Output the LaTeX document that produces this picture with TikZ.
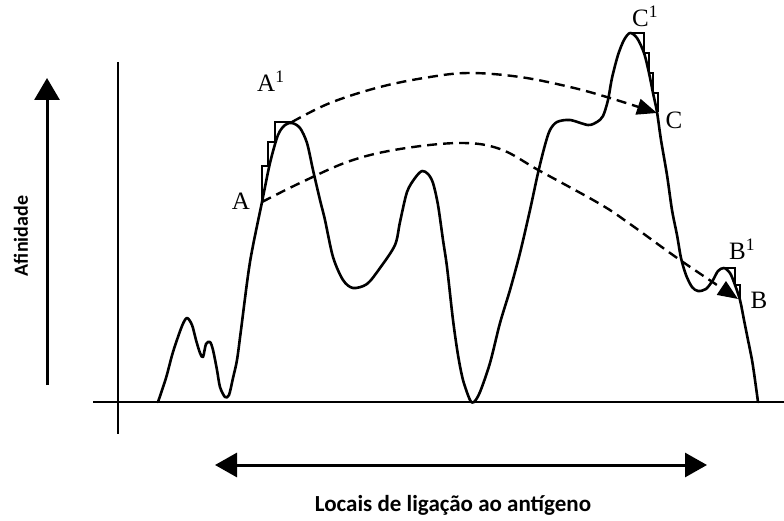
\documentclass[tikz,border=0pt]{standalone}
\usepackage{fontspec}
\setmainfont{Liberation Serif}
\newfontfamily\calibfont{Carlito}
\usetikzlibrary{arrows.meta}
\begin{document}
\begin{tikzpicture}[x=1pt,y=-1pt,
  curve/.style={line width=2.6pt, line join=round, line cap=round},
  axisline/.style={line width=2.2pt},
  stair/.style={line width=2pt, line join=miter},
  dashline/.style={line width=2.4pt, dash pattern=on 10pt off 6pt, -{Triangle[length=20pt,width=16pt]}},
  lbl/.style={font=\fontsize{25}{25}\selectfont, inner sep=0pt},
  bigarrow/.style={line width=3pt},
  captxt/.style={font=\calibfont\bfseries\fontsize{23}{23}\selectfont, inner sep=0pt},
  sidetxt/.style={font=\calibfont\bfseries\fontsize{20}{20}\selectfont, inner sep=0pt}
]
\useasboundingbox (0,0) rectangle (784,521);

% axes
\coordinate (yaxTop) at (118,62);
\coordinate (yaxBot) at (118,434);
\coordinate (xaxL) at (93,402);
\coordinate (xaxR) at (784,402);
\draw[axisline] (yaxTop) -- (yaxBot);
\draw[axisline] (xaxL) -- (xaxR);

% affinity arrow
\coordinate (affBot) at (47,385);
\coordinate (affTop) at (47,78);
\draw[bigarrow, -{Triangle[length=22pt,width=25pt]}] (affBot) -- (affTop);
\node[sidetxt, rotate=90] (afin) at (21,236) {Afinidade};

% sites arrow
\coordinate (siteL) at (215,465);
\coordinate (siteR) at (707,465);
\draw[bigarrow, {Triangle[length=22pt,width=24pt]}-{Triangle[length=22pt,width=24pt]}] (siteL) -- (siteR);
\node[captxt] (locais) at (453,505) {Locais de ligação ao antígeno};

% profile curve
\draw[curve] plot[smooth, tension=0.5] coordinates {
(158,402) (166,378) (173,352) (182,326) (187,318) (192,325) (196,340) (200,353) (203,357)
(206,344) (210,342) (213,350) (217,370) (220,387) (225,397) (229,395) (233,378) (237,360)
(241,330) (250,262) (262,202) (270,163) (278,135) (285,125) (292,123) (300,128) (307,143)
(313,170) (320,200) (325,220) (333,257) (343,280) (353,288) (367,284) (380,268) (395,245)
(400,222) (407,192) (415,178) (422,171) (428,174) (433,183) (438,205) (443,240) (447,267)
(453,320) (458,355) (463,380) (470,400) (474,402) (480,392) (490,363) (500,323) (510,290)
(520,253) (530,210) (538,173) (545,145) (550,130) (557,122) (570,120) (588,125) (597,122)
(603,116) (608,100) (612,78) (618,55) (624,40) (630,33) (637,38) (644,53) (649,73) (653,93)
(657,112) (661,140) (667,175) (672,210) (677,235) (681,258) (686,275) (692,287) (698,291)
(706,289) (713,280) (718,271) (724,268) (730,273) (735,285) (740,300) (744,320) (748,340)
(752,360) (755,380) (758,402)};

% staircases
\draw[stair] (262,202) -- (262,166) -- (268,166) -- (268,142) -- (275,142) -- (275,122) -- (293,122);
\draw[stair] (630,33) -- (644,33) -- (644,53) -- (649,53) -- (649,73) -- (653,73) -- (653,93) -- (658,93) -- (658,112);
\draw[stair] (723,268) -- (735,268) -- (735,285) -- (740,285) -- (740,300);

% points
\coordinate (pA) at (262,202);
\coordinate (pA1) at (292,122);
\coordinate (pB) at (738,299);
\coordinate (pC) at (657,113);

% dashed connectors
\draw[dashline] plot[smooth, tension=0.6] coordinates {(pA) (300,183) (350,161) (400,149) (460,143) (500,149) (540,171) (600,204) (630,224) (680,260) (pB)};
\draw[dashline] plot[smooth, tension=0.6] coordinates {(pA1) (330,103) (380,87) (430,77) (470,73) (520,77) (570,87) (610,98) (pC)};

% labels
\node[lbl] (lA) at (241,201) {A};
\node[lbl, anchor=base west] (lA1) at (257,92) {A\textsuperscript{1}};
\node[lbl, anchor=base west] (lC1) at (632,27) {C\textsuperscript{1}};
\node[lbl] (lC) at (674,120) {C};
\node[lbl, anchor=base west] (lB1) at (729,260) {B\textsuperscript{1}};
\node[lbl] (lB) at (759,300) {B};
\end{tikzpicture}
\end{document}
